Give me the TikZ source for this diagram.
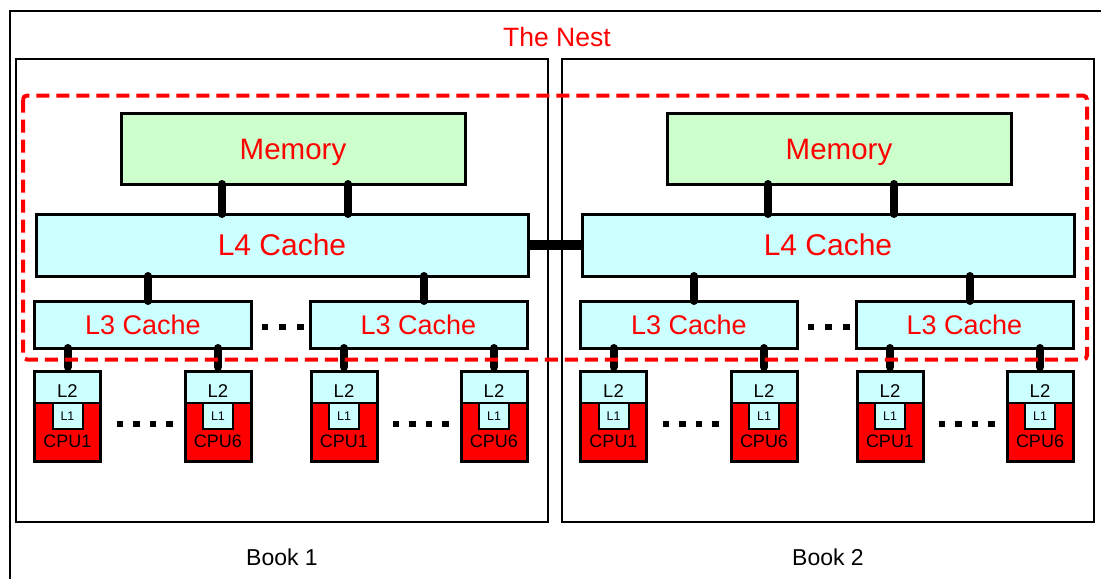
\documentclass[tikz,border=0pt]{standalone}
\usepackage{fontspec}
\setmainfont{Liberation Sans}
\newcommand{\myfs}[1]{\fontsize{#1}{#1}\selectfont}
\definecolor{memgreen}{HTML}{CCFFCC}
\definecolor{cachecyan}{HTML}{CCFFFF}
\definecolor{cpured}{HTML}{FF0000}
\begin{document}
\begin{tikzpicture}[x=1pt,y=-1pt,
  every node/.style={outer sep=0pt},
  box/.style={draw, line width=3pt, inner sep=0pt, text=red, text depth=0pt},
  memnode/.style={box, fill=memgreen, minimum width=344pt, minimum height=71pt, font=\myfs{29.5}, text height=21pt},
  l4node/.style={box, fill=cachecyan, minimum width=492pt, minimum height=62pt, font=\myfs{30}, text height=21.5pt},
  l3node/.style={box, fill=cachecyan, minimum width=217pt, minimum height=47pt, font=\myfs{27}, text height=19.3pt},
  cpubody/.style={draw, line width=3pt, fill=cpured, minimum width=66pt, minimum height=90pt, inner sep=0pt},
  l2band/.style={draw, line width=1.5pt, fill=cachecyan, minimum width=66pt, minimum height=32pt, inner sep=0pt},
  l1box/.style={draw, line width=2pt, fill=cachecyan, minimum width=30pt, minimum height=26pt, inner sep=0pt, font=\myfs{12.5}, text height=9pt, text depth=0pt},
  txt/.style={inner sep=0pt, anchor=base},
  bookbox/.style={draw, line width=1.5pt, minimum width=532pt, minimum height=463pt, inner sep=0pt},
  booklabel/.style={font=\myfs{23}, text height=16.5pt, text depth=0pt, inner sep=0pt},
  bus/.style={line width=8pt, line cap=round},
  link/.style={line width=10pt},
  nestline/.style={red, line width=4pt, dash pattern=on 13pt off 7pt}
]
\useasboundingbox (0,0) rectangle (1101,579);
% outer frame (only left and top edges visible)
\draw[line width=1.2pt] (10,579) -- (10,11) -- (1101,11);
\node[text=red, font=\myfs{26.5}, text height=19pt, text depth=0pt, inner sep=0pt] (nesttitle) at (557,37) {The Nest};

\foreach \b/\o in {1/0, 2/546}{
  \node[bookbox] (book\b) at (282+\o,290.5) {};
  \node[booklabel] (booklabel\b) at (282+\o,557) {Book \b};
  \node[memnode] (mem\b) at (293+\o,148.5) {Memory};
  \node[l4node] (L4\b) at (282+\o,245) {L4 Cache};
  \node[l3node] (L3a\b) at (143+\o,324.5) {L3 Cache};
  \node[l3node] (L3b\b) at (418.5+\o,324.5) {L3 Cache};
  \foreach \c/\x/\t in {a/67.5/1, b/218/6, c/344/1, d/494/6}{
    \node[cpubody] (cpu\c\b) at (\x+\o,416) {};
    \node[l2band, anchor=north] (l2\c\b) at (cpu\c\b.north) {};
    \draw[line width=3pt] (cpu\c\b.south west) rectangle (cpu\c\b.north east);
    \node[l1box, anchor=north] (l1\c\b) at (l2\c\b.south) {L1};
    \node[txt, font=\myfs{18.5}] (l2t\c\b) at (\x+\o,397.5) {L2};
    \node[txt, font=\myfs{18}] (cput\c\b) at (\x+\o,447.5) {CPU\t};
  }
  % connectors
  \draw[bus] ([xshift=-71pt]mem\b.south) -- ([xshift=-60pt]L4\b.north);
  \draw[bus] ([xshift=55pt]mem\b.south) -- ([xshift=66pt]L4\b.north);
  \draw[bus] ([xshift=-134pt]L4\b.south) -- ([xshift=5pt]L3a\b.north);
  \draw[bus] ([xshift=142pt]L4\b.south) -- ([xshift=5.5pt]L3b\b.north);
  \draw[bus, shorten >=4pt] (L3a\b.south -| cpua\b.north) -- (cpua\b.north);
  \draw[bus, shorten >=4pt] (L3a\b.south -| cpub\b.north) -- (cpub\b.north);
  \draw[bus, shorten >=4pt] (L3b\b.south -| cpuc\b.north) -- (cpuc\b.north);
  \draw[bus, shorten >=4pt] (L3b\b.south -| cpud\b.north) -- (cpud\b.north);
  % dots
  \foreach \d in {265,282.5,300.5}{
    \fill (\d+\o-3.25,323.75) rectangle ++(6.5,6.5);
  }
  \foreach \d in {120,136.5,153,169.5,396,412.5,429,445.5}{
    \fill (\d+\o-3.25,420.75) rectangle ++(6.5,6.5);
  }
}
\draw[link] (L41.east) -- (L42.west);
% the nest
\draw[nestline, rounded corners=4pt] (23,95.5) rectangle (1087,359.5);
\end{tikzpicture}
\end{document}
